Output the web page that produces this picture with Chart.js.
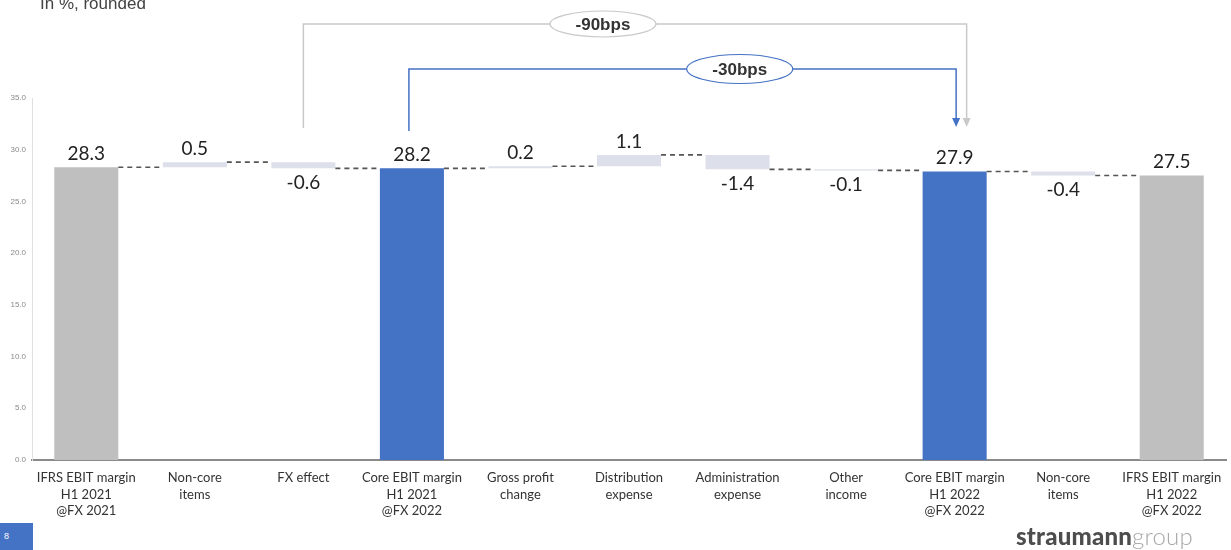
<!DOCTYPE html>
<html lang="en">
<head>
<meta charset="UTF-8">
<title>Core EBIT margin bridge</title>
<script src="https://cdn.jsdelivr.net/npm/chart.js"></script>
<style>
  body { margin: 0; background: #fff; overflow: hidden; }
  #wrap { position: absolute; left: 0; top: 0; width: 1231px; height: 550px; }
  #sub { position: absolute; left: 40px; top: -6px; font: 17px "Liberation Sans", Arial, sans-serif; color: #444; }
  #page { position: absolute; left: 0; top: 523px; width: 33px; height: 27px; background: #4472c4; color: #fff;
          font: 9px "Liberation Sans", Arial, sans-serif; line-height: 27px; padding-left: 4px; box-sizing: border-box; }
  #logo { position: absolute; left: 1016px; top: 521px; font: 24px Lato, sans-serif; letter-spacing: 0.2px; }
  #logo b { color: #4d4d4d; font-weight: 900; }
  #logo span { color: #a8a8a8; font-weight: 300; }
</style>
</head>
<body>
<div id="wrap">
  <canvas id="chart" width="1231" height="550"></canvas>
  <div id="sub">In %, rounded</div>
  <div id="page">8</div>
  <div id="logo"><b>straumann</b><span>group</span></div>
</div>
<script>
const categories = [
  ['IFRS EBIT margin', 'H1 2021', '@FX 2021'],
  ['Non-core', 'items'],
  'FX effect',
  ['Core EBIT margin', 'H1 2021', '@FX 2022'],
  ['Gross profit', 'change'],
  ['Distribution', 'expense'],
  ['Administration', 'expense'],
  ['Other', 'income'],
  ['Core EBIT margin', 'H1 2022', '@FX 2022'],
  ['Non-core', 'items'],
  ['IFRS EBIT margin', 'H1 2022', '@FX 2022']
];
const barStart = [0, 28.3, 28.8, 0, 28.2, 28.4, 29.5, 28.1, 0, 27.9, 0];
const barEnd = [28.3, 28.8, 28.2, 28.2, 28.4, 29.5, 28.1, 28.0, 27.9, 27.5, 27.5];
const valueLabels = ['28.3', '0.5', '-0.6', '28.2', '0.2', '1.1', '-1.4', '-0.1', '27.9', '-0.4', '27.5'];
const barKind = ['ifrs', 'delta', 'delta', 'core', 'delta', 'delta', 'delta', 'delta', 'core', 'delta', 'ifrs'];
const yTicks = [0, 5, 10, 15, 20, 25, 30, 35];

const bridgeText = ['-90bps', '-30bps'];
const bridgeFrom = [2, 3];
const bridgeTo = [8, 8];

const kindColor = { ifrs: '#bfbfbf', core: '#4472c4', delta: '#dde0eb' };

const bridgeStyle = [
  { color: '#c9c9c9', lineY: 24, startY: 128, dxFrom: 0, dxTo: 12, ellipseAt: 4.76, ry: 13 },
  { color: '#4472c4', lineY: 69, startY: 131, dxFrom: -3, dxTo: 1.5, ellipseAt: 6.02, ry: 14.5 }
];

const extras = {
  id: 'extras',
  afterDatasetsDraw(chart) {
    const ctx = chart.ctx;
    const x = chart.scales.x, y = chart.scales.y;
    const meta = chart.getDatasetMeta(0);

    // dashed connectors
    ctx.save();
    ctx.strokeStyle = '#555';
    ctx.lineWidth = 1.6;
    ctx.setLineDash([5, 4]);
    for (let i = 0; i < barEnd.length - 1; i++) {
      const a = meta.data[i], b = meta.data[i + 1];
      const py = y.getPixelForValue(barEnd[i]);
      ctx.beginPath();
      ctx.moveTo(a.x + a.width / 2, py);
      ctx.lineTo(b.x - b.width / 2, py);
      ctx.stroke();
    }
    ctx.restore();

    // value labels
    ctx.save();
    ctx.font = '19px Lato, "Open Sans", sans-serif';
    ctx.fillStyle = '#222';
    ctx.textAlign = 'center';
    valueLabels.forEach((t, i) => {
      const hi = Math.max(barStart[i], barEnd[i]);
      const lo = Math.min(barStart[i], barEnd[i]);
      const px = meta.data[i].x;
      if (t.startsWith('-')) {
        ctx.textBaseline = 'top';
        ctx.fillText(t, px, y.getPixelForValue(lo) + 5);
      } else {
        ctx.textBaseline = 'bottom';
        ctx.fillText(t, px, y.getPixelForValue(hi) - 4);
      }
    });
    ctx.restore();

    // bridge brackets
    bridgeText.forEach((t, k) => {
      const s = bridgeStyle[k];
      const x1 = x.getPixelForValue(bridgeFrom[k]) + s.dxFrom;
      const x2 = x.getPixelForValue(bridgeTo[k]) + s.dxTo;
      const tipY = 127;
      ctx.save();
      ctx.strokeStyle = s.color;
      ctx.fillStyle = s.color;
      ctx.lineWidth = 1.5;
      ctx.beginPath();
      ctx.moveTo(x1, s.startY);
      ctx.lineTo(x1, s.lineY);
      ctx.lineTo(x2, s.lineY);
      ctx.lineTo(x2, tipY - 8);
      ctx.stroke();
      ctx.beginPath();
      ctx.moveTo(x2 - 4, tipY - 9);
      ctx.lineTo(x2 + 4, tipY - 9);
      ctx.lineTo(x2, tipY);
      ctx.closePath();
      ctx.fill();
      const ex = x.getPixelForValue(s.ellipseAt);
      ctx.beginPath();
      ctx.ellipse(ex, s.lineY, 53, s.ry, 0, 0, Math.PI * 2);
      ctx.fillStyle = '#fff';
      ctx.fill();
      ctx.lineWidth = 1.2;
      ctx.stroke();
      ctx.fillStyle = '#333';
      ctx.font = 'bold 17px "Liberation Sans", Arial, sans-serif';
      ctx.textAlign = 'center';
      ctx.textBaseline = 'middle';
      ctx.fillText(t, ex, s.lineY + 1);
      ctx.restore();
    });
  }
};

new Chart(document.getElementById('chart'), {
  type: 'bar',
  data: {
    labels: categories,
    datasets: [{
      data: barStart.map((s, i) => [s, barEnd[i]]),
      backgroundColor: barKind.map(k => kindColor[k]),
      borderWidth: 0,
      categoryPercentage: 1,
      barPercentage: 0.59
    }]
  },
  options: {
    responsive: false,
    animation: false,
    layout: { padding: { top: 98, right: 5, left: 0, bottom: 0 } },
    plugins: { legend: { display: false }, tooltip: { enabled: false } },
    scales: {
      x: {
        grid: { display: false, drawTicks: false },
        border: { color: '#8a8a8a', width: 2 },
        ticks: {
          color: '#333',
          font: { family: 'Lato, "Open Sans", sans-serif', size: 13, lineHeight: 1.3 },
          padding: 9,
          maxRotation: 0,
          autoSkip: false
        },
        afterFit: s => { s.height = 90; }
      },
      y: {
        min: 0,
        max: 35,
        afterBuildTicks: s => { s.ticks = yTicks.map(v => ({ value: v })); },
        grid: { display: false, drawTicks: false },
        border: { color: '#e0e0e0', width: 1 },
        ticks: {
          color: '#8a8a8a',
          font: { family: '"Liberation Sans", Arial, sans-serif', size: 8 },
          padding: 6,
          callback: v => v.toFixed(1)
        },
        afterFit: s => { s.width = 32; }
      }
    }
  },
  plugins: [extras]
});
</script>
</body>
</html>
